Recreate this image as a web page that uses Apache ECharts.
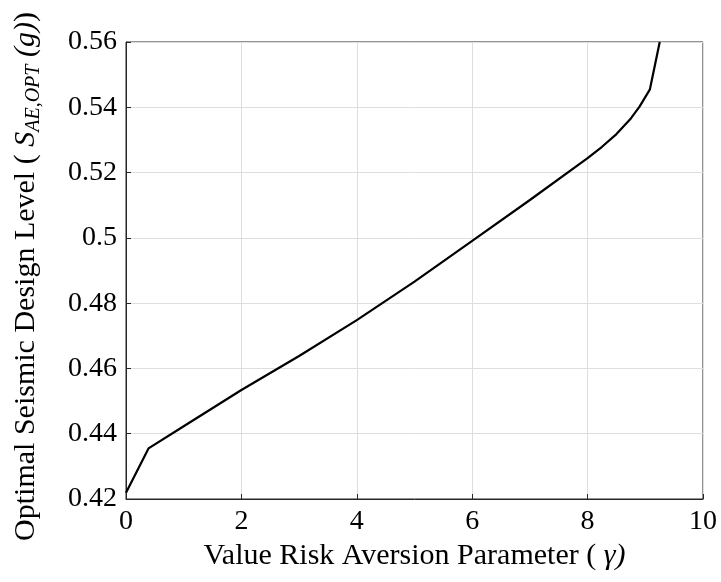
<!DOCTYPE html>
<html>
<head>
<meta charset="utf-8">
<script src="https://cdn.jsdelivr.net/npm/echarts@6/dist/echarts.min.js"></script>
<style>
html,body{margin:0;padding:0;background:#fff;}
#chart{width:721px;height:582px;}
</style>
</head>
<body>
<div id="chart"></div>
<script>
// Data
const gammaValues = [0, 0.39, 1, 2, 3, 4, 5, 6, 7, 8, 8.25, 8.5, 8.75, 8.9, 9.08, 9.25];
const designLevels = [0.4219, 0.4355, 0.4423, 0.4534, 0.4638, 0.4748, 0.4866, 0.4991, 0.5116, 0.5244, 0.5279, 0.5318, 0.5366, 0.5402, 0.5455, 0.5600];
const xTicks = [0, 2, 4, 6, 8, 10];
const yTicks = [0.42, 0.44, 0.46, 0.48, 0.5, 0.52, 0.54, 0.56];

const FONT = '"Liberation Serif", "Times New Roman", serif';
const chart = echarts.init(document.getElementById('chart'), null, {renderer: 'canvas'});
const points = gammaValues.map((g, i) => [g, designLevels[i]]);

chart.setOption({
  animation: false,
  backgroundColor: '#ffffff',
  grid: {
    left: 126, right: 18, top: 42, bottom: 83,
    show: true, borderColor: '#262626', borderWidth: 1,
    containLabel: false, outerBoundsMode: 'none'
  },
  xAxis: {
    type: 'value',
    min: xTicks[0], max: xTicks[xTicks.length - 1], interval: 2,
    name: 'Value Risk Aversion Parameter ( {i|γ)}',
    nameLocation: 'middle', nameGap: 34,
    nameTextStyle: {
      fontFamily: FONT, fontSize: 30, color: '#000',
      rich: { i: { fontFamily: FONT, fontSize: 30, fontStyle: 'italic', color: '#000' } }
    },
    axisLine: { show: true, lineStyle: { color: '#262626', width: 1 } },
    axisTick: { show: true, inside: true, length: 5, lineStyle: { color: '#262626' } },
    axisLabel: { fontFamily: FONT, fontSize: 28, color: '#000', margin: 9 },
    splitLine: { show: true, lineStyle: { color: '#dedede', width: 1 } }
  },
  yAxis: {
    type: 'value',
    min: yTicks[0], max: yTicks[yTicks.length - 1], interval: 0.02,
    name: 'Optimal Seismic Design Level ( {i|S}{sub|AE,OPT} {i|(g)})',
    nameLocation: 'middle', nameGap: 82, nameRotate: 90,
    nameTextStyle: {
      fontFamily: FONT, fontSize: 30, color: '#000',
      padding: [0, 12, 0, 0],
      rich: {
        i: { fontFamily: FONT, fontSize: 30, fontStyle: 'italic', color: '#000' },
        sub: { fontFamily: FONT, fontSize: 20, fontStyle: 'italic', color: '#000', padding: [16, 0, 0, 0] }
      }
    },
    axisLine: { show: true, lineStyle: { color: '#262626', width: 1 } },
    axisTick: { show: true, inside: true, length: 5, lineStyle: { color: '#262626' } },
    axisLabel: {
      fontFamily: FONT, fontSize: 28, color: '#000', margin: 9,
      formatter: v => String(+v.toFixed(2))
    },
    splitLine: { show: true, lineStyle: { color: '#dedede', width: 1 } }
  },
  series: [{
    type: 'line',
    data: points,
    showSymbol: false,
    smooth: false,
    lineStyle: { color: '#000', width: 2.2 },
    clip: true
  }]
});
</script>
</body>
</html>
